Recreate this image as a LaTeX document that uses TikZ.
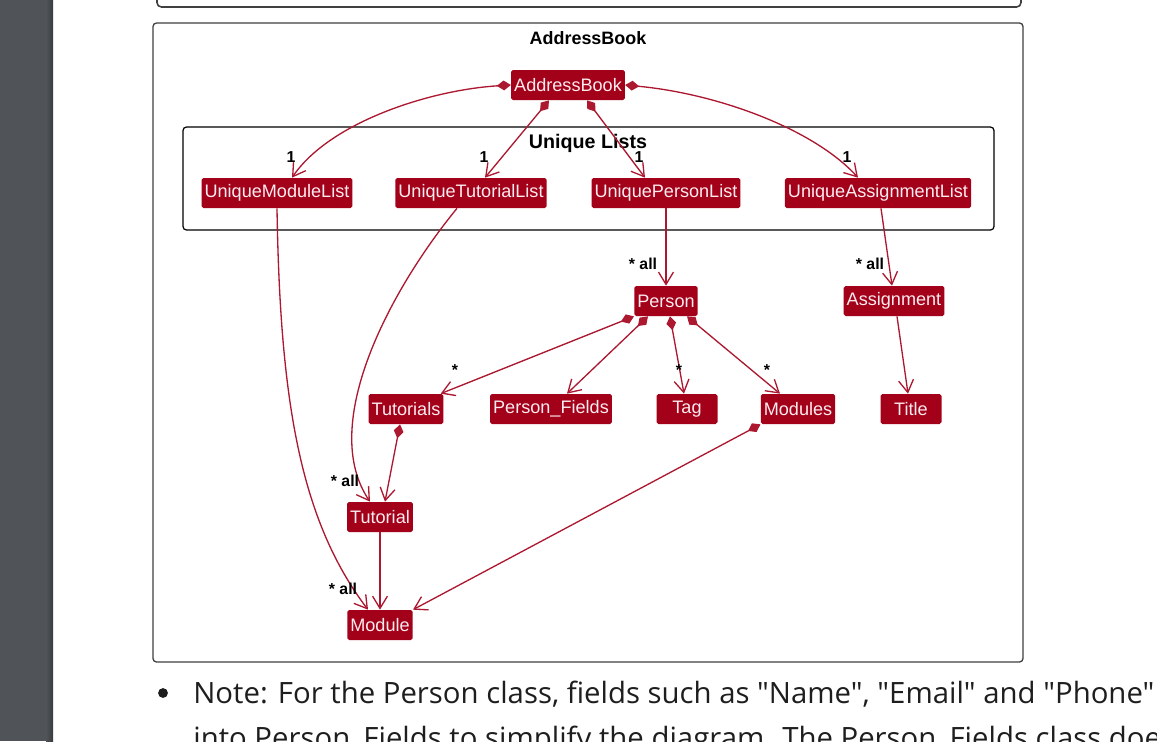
\documentclass[tikz,border=0pt]{standalone}
\usepackage{fontspec}
\setmainfont{Liberation Sans}
\newfontfamily\notefont{Open Sans}
\usepackage{xcolor}
\definecolor{classred}{RGB}{163,0,25}
\definecolor{linkred}{RGB}{172,24,48}
\definecolor{classtext}{RGB}{252,236,240}
\definecolor{frame}{RGB}{64,64,64}
\definecolor{sidebar}{RGB}{80,84,88}
\definecolor{notetext}{RGB}{30,30,30}
\usepackage{tikz}
\usetikzlibrary{
    arrows.meta,
    positioning,
    calc
}

\tikzset{
    cls/.style={fill=classred, text=classtext, rounded corners=1pt, minimum height=0.6cm,
        minimum width=1.22cm, inner xsep=1.7pt, inner ysep=0pt, font=\fontsize{10.3}{12}\selectfont},
    link/.style={draw=linkred, line width=0.75pt, -{Straight Barb[length=7pt,width=8.5pt]}},
    comp/.style={draw=linkred, line width=0.75pt,
        {Diamond[length=8pt,width=5.6pt]}-{Straight Barb[length=7pt,width=8.5pt]}},
    mult/.style={font=\bfseries\fontsize{9}{10}\selectfont, text=black, inner sep=0pt},
    pkgtitle/.style={font=\bfseries\fontsize{10.2}{12}\selectfont, text=black, inner sep=0pt}
}

\begin{document}
\begin{tikzpicture}[x=0.02cm, y=-0.02cm]
        \useasboundingbox (0,0) rectangle (1157,741);
        \clip (0,0) rectangle (1157,741);
        \fill[white] (0,0) rectangle (1157,741);
        % page side bar
        \fill[sidebar] (0,0) rectangle (53,741);
        \shade[left color=sidebar, right color=sidebar!70!black] (46,0) rectangle (53,741);

        % frames
        \draw[frame, line width=0.9pt, rounded corners=2.5pt] (157,-10) rectangle (1021,7);
        \draw[frame, line width=0.75pt, rounded corners=2pt] (153,23) rectangle (1023,662);
        \node[pkgtitle] (abtitle) at (588,38) {AddressBook};
        \draw[black, line width=0.7pt, rounded corners=2pt] (183,127) rectangle (994,230);
        \node[font=\bfseries\fontsize{11.2}{13}\selectfont, inner sep=0pt] (ultitle) at (588,143) {Unique Lists};

        % classes
        \node[cls] (ab) at (568,85) {AddressBook};
        \node[cls] (uml) at (277,193) {UniqueModuleList};
        \node[cls] (utl) at (471,193) {UniqueTutorialList};
        \node[cls] (upl) at (666,193) {UniquePersonList};
        \node[cls] (ual) at (878,193) {UniqueAssignmentList};
        \node[cls] (person) at (666,301) {Person};
        \node[cls] (assignment) at (894,301) {Assignment};
        \node[cls] (tutorials) at (406,409) {Tutorials};
        \node[cls] (pfields) at (551,409) {Person\_Fields};
        \node[cls] (tag) at (687,409) {Tag};
        \node[cls] (modules) at (798,409) {Modules};
        \node[cls] (title) at (911,409) {Title};
        \node[cls] (tutorial) at (380,517) {Tutorial};
        \node[cls] (module) at (380,625) {Module};

        % AddressBook -> unique lists
        \draw[comp] (ab.west) .. controls (430,90) and (330,122) .. ([shift={(15,0)}]uml.north);
        \draw[comp] ([shift={(-19,0)}]ab.south) -- ([shift={(14,0)}]utl.north);
        \draw[comp] ([shift={(19,0)}]ab.south) -- ([shift={(-21,0)}]upl.north);
        \draw[comp] (ab.east) .. controls (720,94) and (815,130) .. ([shift={(-20,0)}]ual.north);
        \node[mult] (m1) at (291,157) {1};
        \node[mult] (m2) at (484,157) {1};
        \node[mult] (m3) at (639,157) {1};
        \node[mult] (m4) at (847,157) {1};

        % lists -> elements
        \draw[link] (upl.south) -- (person.north);
        \draw[link] ([shift={(3,0)}]ual.south) -- ([shift={(-2,0)}]assignment.north);
        \node[mult] (m5) at (643,264) {* all};
        \node[mult] (m6) at (870,264) {* all};

        % person parts
        \draw[comp] (person.south west) -- ([shift={(-3,0)}]tutorials.north east);
        \draw[comp] ([shift={(-18,0)}]person.south) -- ([shift={(16,0)}]pfields.north);
        \draw[comp] ([shift={(4,0)}]person.south) -- ([shift={(-3,0)}]tag.north);
        \draw[comp] ([shift={(21,0)}]person.south) -- ([shift={(-18,0)}]modules.north);
        \draw[link] ([shift={(3,0)}]assignment.south) -- ([shift={(-3,0)}]title.north);
        \node[mult] (m7) at (455,370) {*};
        \node[mult] (m8) at (679,370) {*};
        \node[mult] (m9) at (767,370) {*};

        % tutorials and modules
        \draw[comp] ([shift={(-6,0)}]tutorials.south) -- ([shift={(5,0)}]tutorial.north);
        \draw[link] ([shift={(-14,0)}]utl.south) .. controls (390,290) and (318,425) .. ([shift={(-10,0)}]tutorial.north);
        \draw[link] (uml.south) .. controls (280,400) and (300,520) .. ([shift={(-12,0)}]module.north);
        \draw[link] (tutorial.south) -- (module.north);
        \draw[comp] (modules.south west) -- (module.north east);
        \node[mult] (m10) at (345,481) {* all};
        \node[mult] (m11) at (343,589) {* all};

        % note below the diagram
        \fill[notetext] (163,693) circle (2.8pt);
        \node[anchor=base west, inner sep=0pt, text=notetext, font=\notefont\fontsize{16.7}{20}\selectfont] (note1) at (193,703)
            {Note: For the Person class, fields such as "Name", "Email" and "Phone"};
        \node[anchor=base west, inner sep=0pt, text=notetext, font=\notefont\fontsize{16.7}{20}\selectfont] (note2) at (193,748)
            {into Person\_Fields to simplify the diagram. The Person\_Fields class doe};
    \end{tikzpicture}
\end{document}
